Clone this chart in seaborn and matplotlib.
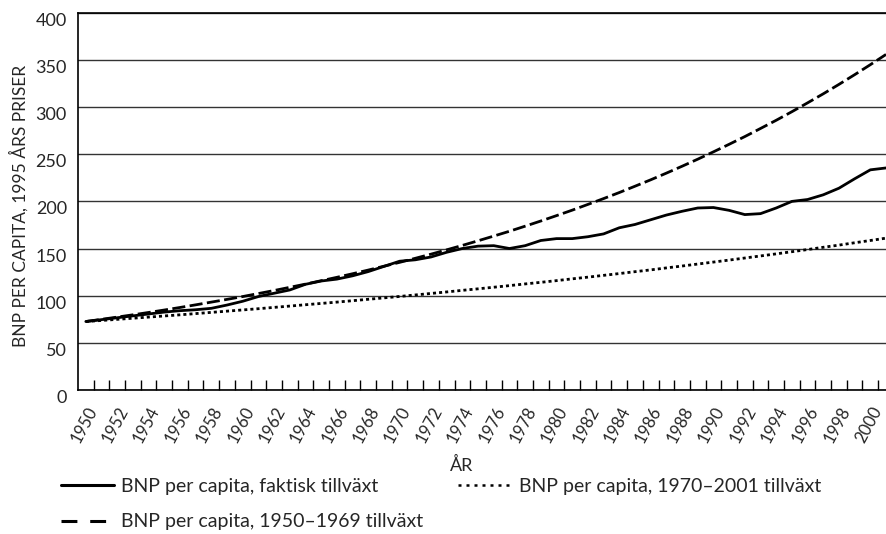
import seaborn as sns
import matplotlib.pyplot as plt
from matplotlib.lines import Line2D
import pandas as pd

# BNP per capita, 1995 års priser
years = list(range(1950, 2002))
faktisk = [72.5, 74.5, 76.5, 78.5, 80.5, 82.5, 84.0, 85.0, 86.5, 90.0,
           94.0, 99.0, 102.5, 106.0, 112.0, 115.5, 117.5, 121.0, 125.5, 131.0,
           136.5, 138.0, 141.0, 146.0, 150.0, 152.5, 153.0, 150.0, 153.0, 158.5,
           160.5, 160.5, 162.5, 165.5, 172.0, 175.5, 180.5, 185.5, 189.5, 193.0,
           193.5, 190.5, 186.0, 187.0, 193.0, 200.0, 202.0, 207.0, 214.0, 224.0,
           233.5, 235.5]
tillv_1950_1969 = [72.5, 74.8, 77.2, 79.6, 82.1, 84.7, 87.4, 90.2, 93.1, 96.0,
                   99.0, 102.2, 105.4, 108.8, 112.2, 115.8, 119.4, 123.2, 127.1, 131.2,
                   135.3, 139.6, 144.0, 148.6, 153.3, 158.2, 163.2, 168.3, 173.7, 179.2,
                   184.9, 190.7, 196.8, 203.0, 209.4, 216.1, 222.9, 230.0, 237.3, 244.8,
                   252.6, 260.6, 268.8, 277.4, 286.1, 295.2, 304.6, 314.2, 324.2, 334.5,
                   345.1, 356.0]
tillv_1970_2001 = [72.5, 73.6, 74.8, 76.0, 77.2, 78.4, 79.6, 80.9, 82.2, 83.5,
                   84.8, 86.1, 87.5, 88.9, 90.3, 91.7, 93.1, 94.6, 96.1, 97.6,
                   99.1, 100.7, 102.3, 103.9, 105.6, 107.2, 108.9, 110.6, 112.4, 114.1,
                   115.9, 117.8, 119.6, 121.5, 123.4, 125.4, 127.3, 129.4, 131.4, 133.5,
                   135.6, 137.7, 139.9, 142.1, 144.3, 146.6, 148.9, 151.3, 153.6, 156.1,
                   158.5, 161.0]
labels = ['BNP per capita, faktisk tillväxt',
          'BNP per capita, 1950\u20131969 tillväxt',
          'BNP per capita, 1970\u20132001 tillväxt']

df = pd.DataFrame({'pos': range(len(years)), 'faktisk': faktisk,
                   'a': tillv_1950_1969, 'b': tillv_1970_2001})

sns.set_theme(style='white')
plt.rcParams['font.family'] = ['Lato', 'DejaVu Sans']

fig = plt.figure(figsize=(8.87, 5.34), dpi=100)
ax = fig.add_axes([0.0879, 0.270, 0.9110, 0.7057])

sns.lineplot(data=df, x='pos', y='faktisk', ax=ax, color='black', lw=2.0)
sns.lineplot(data=df, x='pos', y='a', ax=ax, color='black', lw=2.0)
sns.lineplot(data=df, x='pos', y='b', ax=ax, color='black', lw=2.0)
ax.lines[1].set_dashes([4.7, 1.6])
ax.lines[2].set_dashes([1.1, 1.1])

ax.set_xlim(-0.5, len(years) - 1)
ax.set_ylim(0, 400)
ax.set_yticks(range(0, 401, 50))
ax.yaxis.grid(True, color='#333333', lw=1)
ax.set_axisbelow(True)

ax.set_xticks(range(0, len(years), 2))
ax.set_xticklabels([str(y) for y in years[::2]], rotation=62, ha='right',
                   rotation_mode='anchor', fontsize=12)
ax.set_xticks([i + 0.5 for i in range(len(years) - 1)], minor=True)
ax.tick_params(axis='x', which='major', length=0, pad=10)
ax.tick_params(axis='x', which='minor', direction='in', length=7, width=1,
               color='black', bottom=True)
ax.tick_params(axis='y', length=0, pad=8, labelsize=13)
for lab in ax.get_yticklabels():
    lab.set_va('top')

for side in ['left', 'bottom', 'top']:
    ax.spines[side].set_color('black')
    ax.spines[side].set_linewidth(1.2)
ax.spines['right'].set_visible(False)

ax.set_xlabel('')
ax.set_ylabel('')
fig.text(462 / 887, 1 - 465 / 534, 'ÅR', ha='center', va='center', fontsize=13)
fig.text(19 / 887, 1 - 206 / 534, 'BNP PER CAPITA, 1995 ÅRS PRISER', rotation=90,
         ha='center', va='center', fontsize=12.5)

handles = [Line2D([], [], color='black', lw=2.2),
           Line2D([], [], color='black', lw=2.2, dashes=[5.2, 4.2]),
           Line2D([], [], color='black', lw=1.8, dashes=[1.2, 2.0])]
fig.legend(handles, labels, ncol=2, loc='upper left',
           bbox_to_anchor=(61 / 887, 1 - 478 / 534), frameon=False, fontsize=14,
           handlelength=2.7, handletextpad=0.4, labelspacing=0.95,
           columnspacing=1.8, borderpad=0, borderaxespad=0)

fig.savefig('out.png', dpi=100)
